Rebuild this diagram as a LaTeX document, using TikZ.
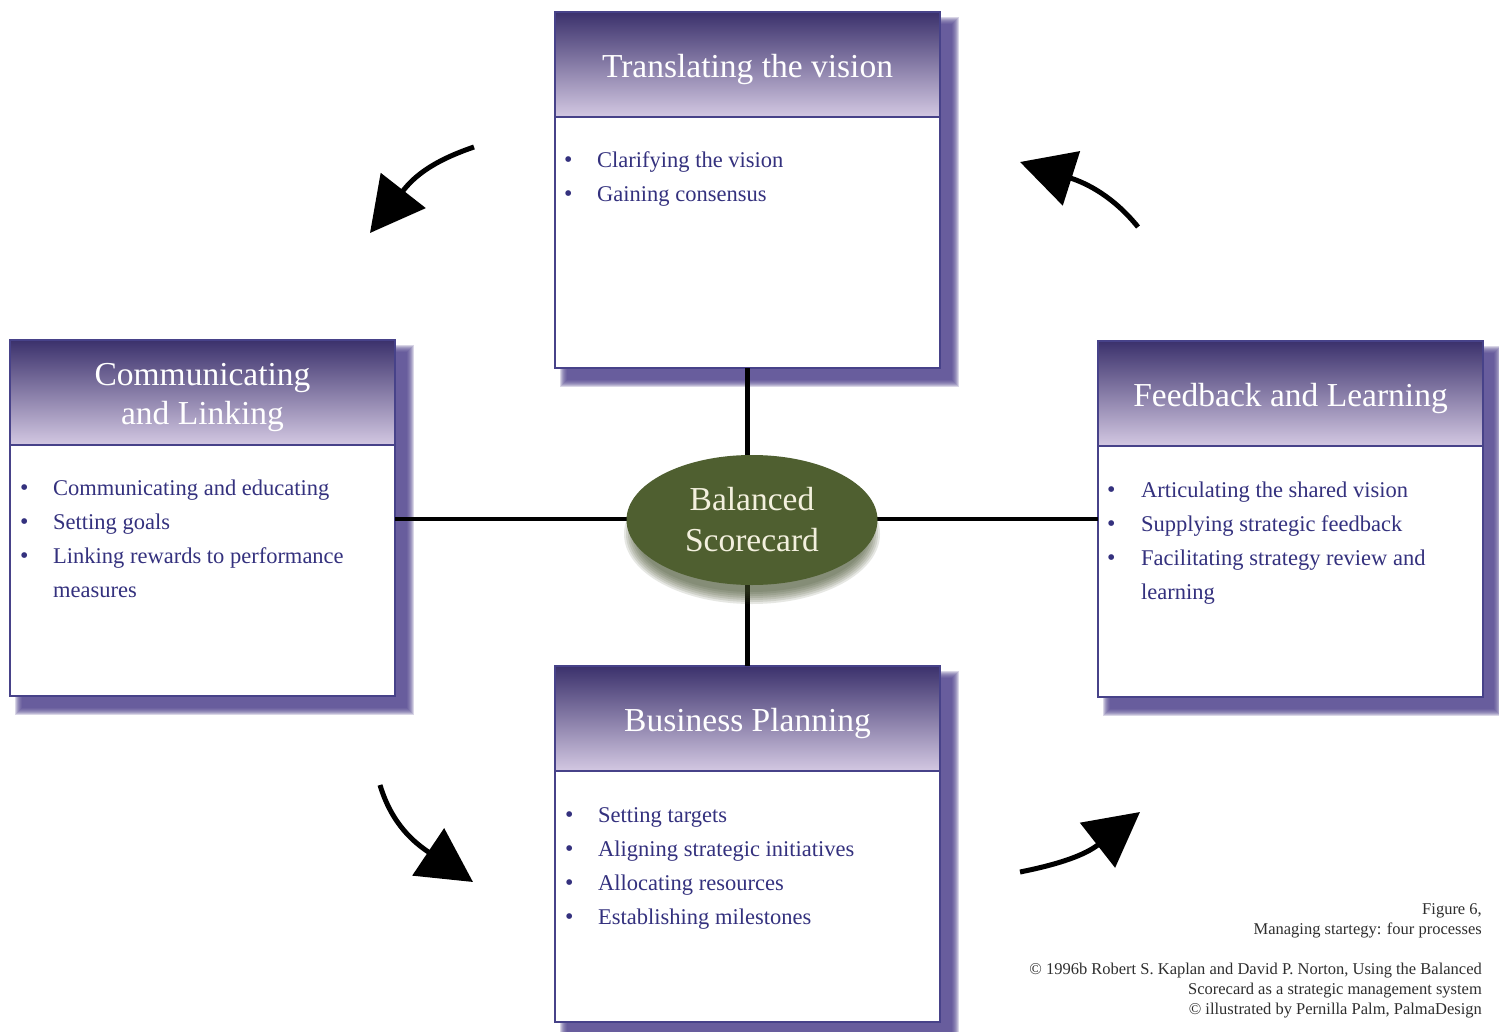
\documentclass[tikz,border=0pt]{standalone}
\usepackage{fontspec}
\setmainfont{Liberation Serif}
\usetikzlibrary{arrows.meta,shapes.geometric}
\definecolor{hdark}{HTML}{3B316C}
\definecolor{hlight}{HTML}{D3C8E2}
\definecolor{bordc}{HTML}{474289}
\definecolor{txtc}{HTML}{34317E}
\definecolor{shadc}{HTML}{52458F}
\definecolor{olivec}{HTML}{4F5F30}
\definecolor{capc}{HTML}{2E2E2E}
\newcommand\bul{\makebox[33pt][l]{\fontsize{24}{24}\selectfont\textbullet}}
\newcommand\bulr{\makebox[34pt][l]{\fontsize{24}{24}\selectfont\textbullet}}
\newcommand\mkshadow[4]{\foreach \e in {7,6,...,0}{\fill[shadc,opacity=0.22] ({#1+12-\e},{#2+12-\e}) rectangle ({#3+12+\e},{#4+12+\e});}}
\tikzset{
  hdr/.style={draw=bordc, line width=2pt, top color=hdark, bottom color=hlight,
    minimum width=385pt, minimum height=105pt, inner sep=0pt, outer sep=0pt},
  htxt/.style={text=white, inner sep=0pt, align=center, font=\fontsize{33.5}{39}\selectfont},
  bodyb/.style={draw=bordc, line width=2pt, fill=white, minimum width=385pt,
    minimum height=251pt, inner sep=0pt, outer sep=0pt},
  items/.style={text=txtc, inner sep=0pt, anchor=base west, font=\fontsize{22.5}{34}\selectfont},
  conn/.style={line width=4.5pt, black},
  bigarrow/.style={line width=5pt, black, -{Triangle[length=54pt,width=56pt]}},
  capt/.style={text=capc, inner sep=0pt, anchor=base east, font=\fontsize{16.5}{20}\selectfont}
}
\begin{document}
\begin{tikzpicture}[x=1pt,y=-1pt]
\useasboundingbox (0,0) rectangle (1499,1032);
\fill[white] (0,0) rectangle (1499,1032);
% shadows
\mkshadow{555}{12}{940}{368}
\mkshadow{10}{340}{395}{696}
\mkshadow{1098}{341}{1482}{697}
\mkshadow{555}{666}{940}{1022}
% boxes
\node[hdr, anchor=north west] (th) at (555,12) {};
\node[htxt] (tht) at ([yshift=-5pt]th.center) {Translating the vision};
\node[bodyb, anchor=north] (tb) at (th.south) {};
\node[hdr, anchor=north west] (lh) at (10,340) {};
\node[htxt] (lht) at ([yshift=-5pt]lh.center) {Communicating\\and Linking};
\node[bodyb, anchor=north] (lb) at (lh.south) {};
\node[hdr, anchor=north west] (rh) at (1098,341) {};
\node[htxt] (rht) at ([yshift=-5pt]rh.center) {Feedback and Learning};
\node[bodyb, anchor=north] (rb) at (rh.south) {};
\node[hdr, anchor=north west] (bh) at (555,666) {};
\node[htxt] (bht) at ([yshift=-5pt]bh.center) {Business Planning};
\node[bodyb, anchor=north] (bb) at (bh.south) {};
% connectors
\draw[conn] (tb.south) -- (bh.north);
\coordinate (cc) at (752,519);
\draw[conn] (lb.east |- cc) -- (rb.west |- cc);
% ellipse shadow
\foreach \e in {12,10,...,0}{\fill[olivec!80!black,opacity=0.13] (752,534) ellipse ({116+\e} and {58+\e});}
\node[ellipse, fill=olivec, minimum width=251pt, minimum height=130pt, inner sep=0pt,
  text={rgb,255:red,243;green,240;blue,222}, align=center, font=\fontsize{33.5}{41}\selectfont] (bsc) at (752,520) {Balanced\\Scorecard};
% lists
\node[items] (tl) at (564,168) {\begin{tabular}[t]{@{}l@{}l@{}}
\bul & Clarifying the vision\\
\bul & Gaining consensus
\end{tabular}};
\node[items] (ll) at (20,495) {\begin{tabular}[t]{@{}l@{}l@{}}
\bul & Communicating and educating\\
\bul & Setting goals\\
\bul & Linking rewards to performance\\
 & measures
\end{tabular}};
\node[items] (rl) at (1107,497) {\begin{tabular}[t]{@{}l@{}l@{}}
\bulr & Articulating the shared vision\\
\bulr & Supplying strategic feedback\\
\bulr & Facilitating strategy review and\\
 & learning
\end{tabular}};
\node[items] (bl) at (565,822) {\begin{tabular}[t]{@{}l@{}l@{}}
\bul & Setting targets\\
\bul & Aligning strategic initiatives\\
\bul & Allocating resources\\
\bul & Establishing milestones
\end{tabular}};
% arrows
\coordinate (a1s) at (474,147); \coordinate (a1t) at (370,233);
\coordinate (a2s) at (1138,227); \coordinate (a2t) at (1020,162);
\coordinate (a3s) at (380,785); \coordinate (a3t) at (473,882);
\coordinate (a4s) at (1020,872); \coordinate (a4t) at (1140,812);
\draw[bigarrow] (a1s) .. controls (430,162) and (413,178) .. (a1t);
\draw[bigarrow] (a2s) .. controls (1113,196) and (1086,183) .. (a2t);
\draw[bigarrow] (a3s) .. controls (392,825) and (415,843) .. (a3t);
\draw[bigarrow] (a4s) .. controls (1060,864) and (1085,855) .. (a4t);
% caption
\node[capt] (cap1) at (1482,914) {Figure 6,};
\node[capt] (cap2) at (1482,934) {Managing startegy: four processes};
\node[capt] (cap3) at (1482,974) {© 1996b Robert S. Kaplan and David P. Norton, Using the Balanced};
\node[capt] (cap4) at (1482,994) {Scorecard as a strategic management system};
\node[capt] (cap5) at (1482,1014) {© illustrated by Pernilla Palm, PalmaDesign};
\end{tikzpicture}
\end{document}
